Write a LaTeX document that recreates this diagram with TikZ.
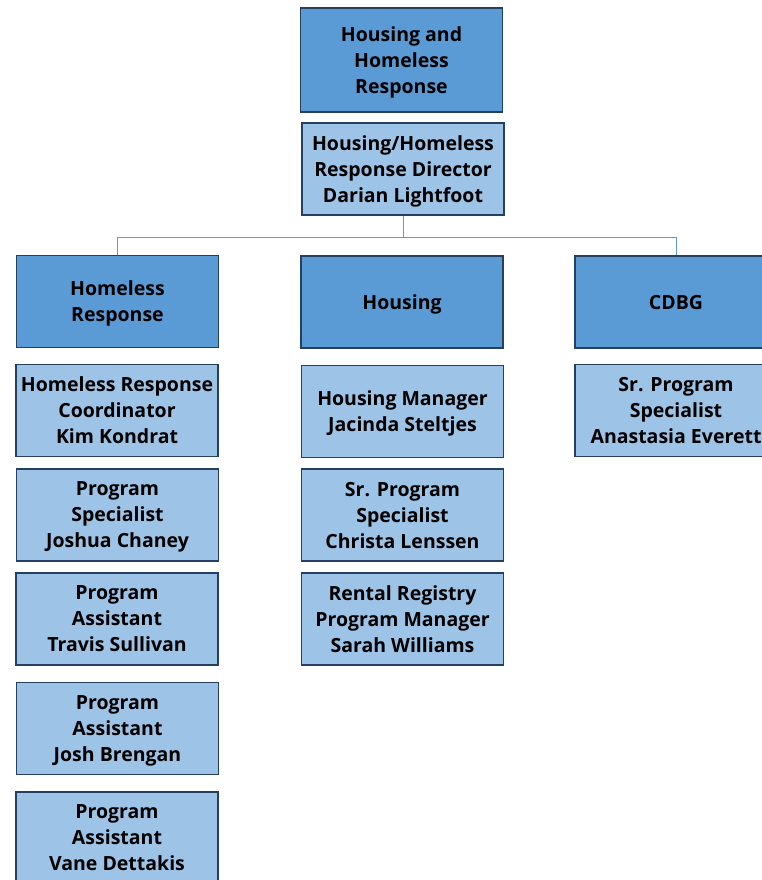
\documentclass[tikz,border=0pt]{standalone}
\usepackage{fontspec}
\setmainfont{Open Sans}
\usepackage{tikz}
\definecolor{unitblue}{HTML}{5B9BD5}
\definecolor{staffblue}{HTML}{9DC3E6}
\definecolor{boxline}{HTML}{243F60}
\tikzset{basic/.style={draw=boxline,line width=1.6pt,rectangle,
                       minimum width=202pt,minimum height=92pt,inner sep=0pt,
                       text depth=0pt,align=center,
                       font=\fontsize{19.5}{26}\selectfont\bfseries}}
\tikzset{unit/.style={basic,fill=unitblue}}
\tikzset{staff/.style={basic,fill=staffblue}}
\begin{document}
\begin{tikzpicture}[x=1pt,y=-1pt]
  \useasboundingbox (0,0) rectangle (762,880);
  \clip (0,0) rectangle (762,880);
  \fill[white] (0,0) rectangle (762,880);

  % Top of the chart: department and its director
  \node (dept) [unit,minimum height=104pt] at (401.5,60) {Housing and\\Homeless\\Response};
  \node (dir)  [staff] at (403,169) {Housing/Homeless\\Response Director\\Darian Lightfoot};

  % Second line: the three divisions
  \node (homeless) [unit] at (117.5,301.5) {Homeless\\Response};
  \node (housing)  [unit] at (402,302)     {Housing};
  \node (cdbg)     [unit] at (676,302)     {CDBG};

  % Staff of Homeless Response
  \node (hr_coord) [staff] at (117,410.5) {Homeless Response\\Coordinator\\Kim Kondrat};
  \node (hr_spec)  [staff] at (117.5,515) {Program\\Specialist\\Joshua Chaney};
  \node (hr_asst1) [staff] at (117,619)   {Program\\Assistant\\Travis Sullivan};
  \node (hr_asst2) [staff] at (117.5,728.5) {Program\\Assistant\\Josh Brengan};
  \node (hr_asst3) [staff] at (117,838)   {Program\\Assistant\\Vane Dettakis};

  % Staff of Housing
  \node (ho_mgr)  [staff] at (402.5,411.5) {Housing Manager\\Jacinda Steltjes};
  \node (ho_spec) [staff] at (402.5,515)   {Sr. Program\\Specialist\\Christa Lenssen};
  \node (ho_reg)  [staff] at (402.5,619)   {Rental Registry\\Program Manager\\Sarah Williams};

  % Staff of CDBG
  \node (cd_spec) [staff] at (676,410.5) {Sr. Program\\Specialist\\Anastasia Everett};

  % The director is connected to the divisions:
  \coordinate (bus) at (dir.south |- 0,237);
  \path[draw=unitblue,line width=0.9pt]
    (dir.south) -- (bus)
    (bus) -| (homeless.north)
    (bus) -- (housing.north |- bus)
    (bus) -| (cdbg.north);
\end{tikzpicture}
\end{document}
